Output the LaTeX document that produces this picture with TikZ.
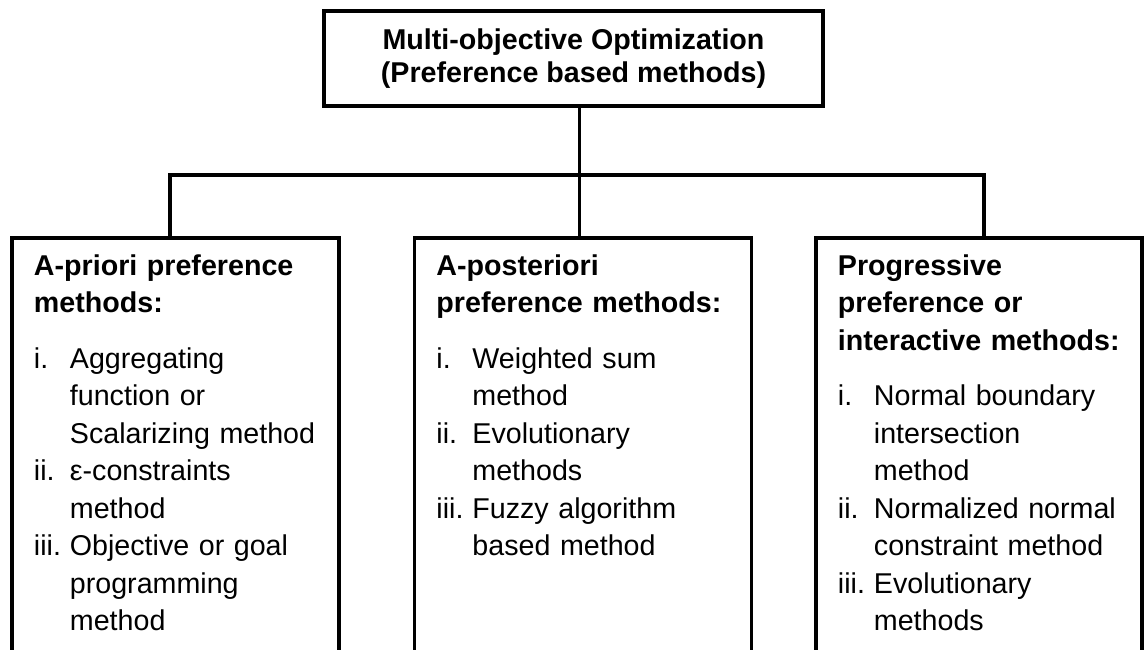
\documentclass[tikz,border=0pt]{standalone}
\usepackage{fontspec}
\setmainfont{Liberation Sans}

\newcommand{\itm}[1]{\makebox[0.72cm][l]{#1}}
\newcommand{\cont}{\hspace*{0.72cm}}

\begin{document}
\begin{tikzpicture}[
  every node/.style={font=\fontsize{16.3}{21.3}\selectfont},
  titlebox/.style={draw, line width=2.2pt, minimum width=9.98cm, minimum height=1.9cm,
    align=center, font=\fontsize{16.3}{18.7}\selectfont\bfseries},
  classbox/.style={draw, line width=2.2pt, anchor=north west, inner xsep=0.44cm,
    inner ysep=0.32cm, align=left, text depth=7.7cm},
  link/.style={line width=1.8pt}
]
\useasboundingbox (0,0) rectangle (22.94,-13);
\clip (0,0) rectangle (22.94,-13);

\node[titlebox] (moo) at (11.47,-1.17) {Multi-objective Optimization\\(Preference based methods)};

\node[classbox, text width=5.66cm] (apriori) at (0.2,-4.73) {%
\textbf{A-priori preference}\\
\textbf{methods:}\\[0.37cm]
\itm{i.}Aggregating\\
\cont function or\\
\cont Scalarizing method\\
\itm{ii.}ε-constraints\\
\cont method\\
\itm{iii.}Objective or goal\\
\cont programming\\
\cont method};

\node[classbox, text width=5.86cm] (aposteriori) at (8.25,-4.73) {%
\textbf{A-posteriori}\\
\textbf{preference methods:}\\[0.37cm]
\itm{i.}Weighted sum\\
\cont method\\
\itm{ii.}Evolutionary\\
\cont methods\\
\itm{iii.}Fuzzy algorithm\\
\cont based method};

\node[classbox, text width=5.64cm] (progressive) at (16.28,-4.73) {%
\textbf{Progressive}\\
\textbf{preference or}\\
\textbf{interactive methods:}\\[0.37cm]
\itm{i.}Normal boundary\\
\cont intersection\\
\cont method\\
\itm{ii.}Normalized normal\\
\cont constraint method\\
\itm{iii.}Evolutionary\\
\cont methods};

\coordinate (bar) at ([xshift=-0.07cm]aposteriori.north |- 0,-3.5);
\draw[link] ([xshift=-0.07cm]aposteriori.north |- moo.south) -- ([xshift=-0.07cm]aposteriori.north);
\draw[link] ([xshift=-0.11cm]apriori.north) |- (bar) -| ([xshift=0.1cm]progressive.north);
\end{tikzpicture}
\end{document}
